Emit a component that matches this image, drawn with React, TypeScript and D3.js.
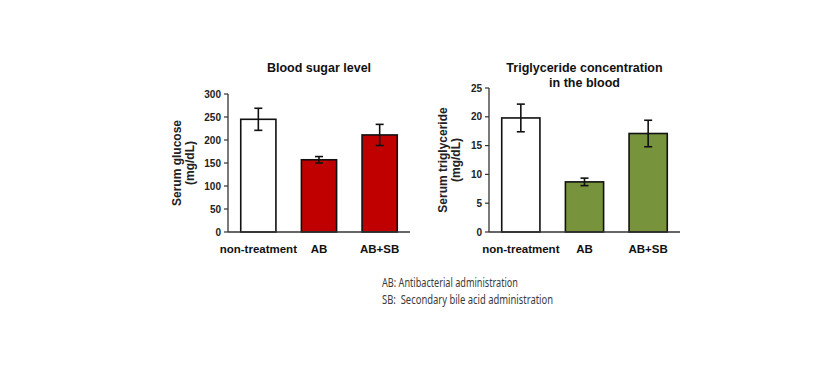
import * as d3 from "d3";

const groups = ["non-treatment", "AB", "AB+SB"];

// blood sugar (mg/dL)
const glucoseMean = [245, 157, 211];
const glucoseErr = [24, 7, 23];
const glucoseTicks = [0, 50, 100, 150, 200, 250, 300];

// triglyceride (mg/dL)
const tgMean = [19.8, 8.7, 17.1];
const tgErr = [2.4, 0.65, 2.3];
const tgTicks = [0, 5, 10, 15, 20, 25];

const notes = [
  "AB: Antibacterial administration",
  "SB:  Secondary bile acid administration",
];
const noteWidths = [136, 171];

type PanelProps = {
  title: string[];
  ylabel: string[];
  mean: number[];
  err: number[];
  ticks: number[];
  fill: string;
  x0: number;
  x1: number;
  yTop: number;
  labelX: number;
  barFrac: number;
};

function Panel(p: PanelProps) {
  const yBottom = 232;
  const ymax = p.ticks[p.ticks.length - 1];
  const y = d3.scaleLinear().domain([0, ymax]).range([yBottom, p.yTop]);
  const x = d3.scalePoint().domain(groups).range([p.x0, p.x1]).padding(0.5);
  const bw = x.step() * p.barFrac;
  const cx = (p.x0 + p.x1) / 2;
  const ylabMid = (yBottom + p.yTop) / 2;

  return (
    <g>
      {p.title.map((t, i) => (
        <text key={t} x={cx} y={72 + i * 15} textAnchor="middle"
          fontSize={12.5} fontWeight="bold" fill="#111">{t}</text>
      ))}
      {p.ylabel.map((t, i) => (
        <text key={t} transform={`translate(${p.labelX + i * 13},${ylabMid}) rotate(-90)`}
          textAnchor="middle" fontSize={12} fontWeight="bold" fill="#222">{t}</text>
      ))}
      {groups.map((g, i) => {
        const c = x(g)!;
        const top = y(p.mean[i] + p.err[i]);
        const bot = y(p.mean[i] - p.err[i]);
        return (
          <g key={g}>
            <rect x={c - bw / 2} y={y(p.mean[i])} width={bw} height={yBottom - y(p.mean[i])}
              fill={i === 0 ? "#fff" : p.fill} stroke="#111" strokeWidth={1.6} />
            <line x1={c} x2={c} y1={top} y2={bot} stroke="#111" strokeWidth={1.6} />
            <line x1={c - 4} x2={c + 4} y1={top} y2={top} stroke="#111" strokeWidth={1.6} />
            <line x1={c - 4} x2={c + 4} y1={bot} y2={bot} stroke="#111" strokeWidth={1.6} />
            <text x={c} y={253} textAnchor="middle" fontSize={11.5} fontWeight="bold" fill="#111">{g}</text>
          </g>
        );
      })}
      <line x1={p.x0} x2={p.x0} y1={yBottom} y2={p.yTop} stroke="#333" strokeWidth={1.3} />
      <line x1={p.x0} x2={p.x1} y1={yBottom} y2={yBottom} stroke="#333" strokeWidth={1.3} />
      {p.ticks.map((t) => (
        <g key={t}>
          <line x1={p.x0 - 4} x2={p.x0} y1={y(t)} y2={y(t)} stroke="#333" strokeWidth={1.2} />
          <text x={p.x0 - 7} y={y(t)} dy="0.35em" textAnchor="end" fontSize={10} fontWeight="bold" fill="#222">{t}</text>
        </g>
      ))}
    </g>
  );
}

export default function App() {
  return (
    <svg width={840} height={375} style={{ position: "absolute", left: 0, top: 0 }}
      fontFamily="'Liberation Sans', Arial, sans-serif">
      <rect width={840} height={375} fill="#fff" />
      <Panel title={["Blood sugar level"]} ylabel={["Serum glucose", "(mg/dL)"]}
        mean={glucoseMean} err={glucoseErr} ticks={glucoseTicks} fill="#C00000"
        x0={228} x1={410} yTop={94} labelX={181} barFrac={0.58} />
      <Panel title={["Triglyceride concentration", "in the blood"]} ylabel={["Serum triglyceride", "(mg/dL)"]}
        mean={tgMean} err={tgErr} ticks={tgTicks} fill="#77933C"
        x0={489} x1={680} yTop={88} labelX={447} barFrac={0.6} />
      {notes.map((n, i) => (
        <text key={n} x={382} y={287 + i * 17} fontSize={12} fill="#3a3a3a"
          textLength={noteWidths[i]} lengthAdjust="spacingAndGlyphs"
          style={{ whiteSpace: "pre" }}
          fontFamily="'Noto Sans', sans-serif">{n}</text>
      ))}
    </svg>
  );
}
